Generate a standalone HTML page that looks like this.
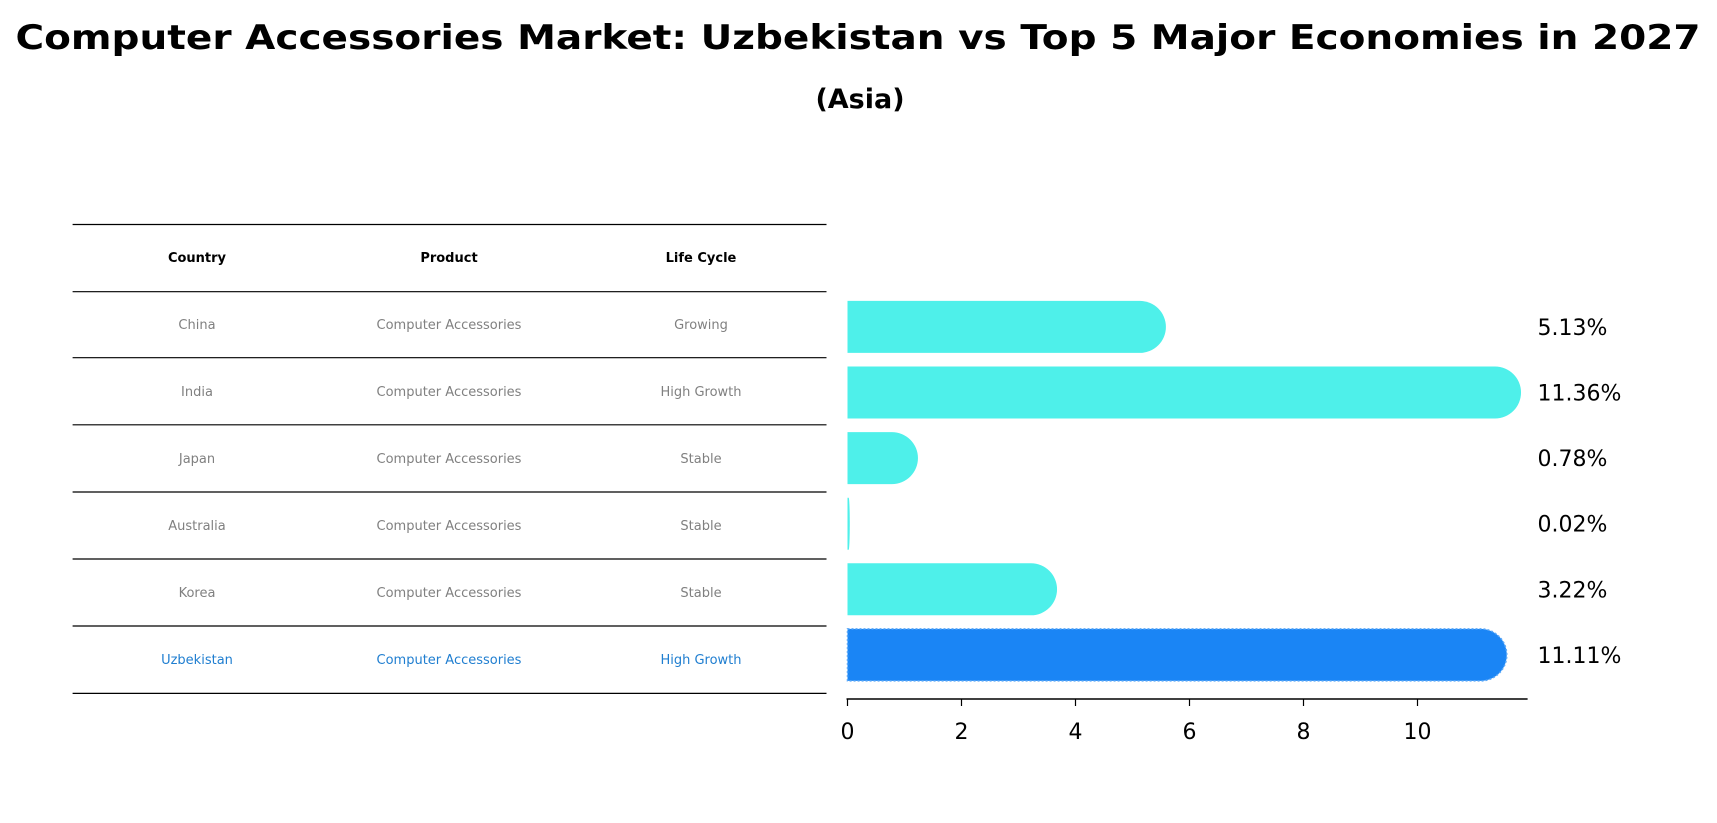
<!DOCTYPE html>
<html><head><meta charset="utf-8"><style>
body{margin:0;background:#fff;}
svg{display:block;font-family:"DejaVu Sans","Liberation Sans",sans-serif;}
</style></head><body>
<svg id="chart" width="1717" height="823" viewBox="0 0 1717 823">
<text x="858" y="49" text-anchor="middle" font-size="34" font-weight="bold" textLength="1685" lengthAdjust="spacingAndGlyphs">Computer Accessories Market: Uzbekistan vs Top 5 Major Economies in 2027</text>
<text x="860" y="108" text-anchor="middle" font-size="27" font-weight="bold">(Asia)</text>
<g id="table"></g>
<g id="bars"></g>
<g id="axis"></g>
<g id="labels"></g>
</svg>
<script>
const countries = ["China","India","Japan","Australia","Korea","Uzbekistan"];
const products = ["Computer Accessories","Computer Accessories","Computer Accessories","Computer Accessories","Computer Accessories","Computer Accessories"];
const lifeCycles = ["Growing","High Growth","Stable","Stable","Stable","High Growth"];
const values = [5.13,11.36,0.78,0.02,3.22,11.11];
const valueLabels = ["5.13%","11.36%","0.78%","0.02%","3.22%","11.11%"];
const ticks = [0,2,4,6,8,10];

const NS="http://www.w3.org/2000/svg";
function mk(tag,attrs,parent){const e=document.createElementNS(NS,tag);for(const k in attrs)e.setAttribute(k,attrs[k]);parent.appendChild(e);return e;}
const x0=847.5, ppu=57.0;
const xs=v=>x0+v*ppu;
const rowY=i=>326.9+i*65.6;
const barH=52;

// table
const tbl=document.getElementById('table');
const lines=[224.5,291.7,357.7,424.8,492,559,626,693.4];
lines.forEach((y,i)=>{const l=mk('line',{x1:72.6,x2:826.5,y1:y,y2:y,stroke:'#000','stroke-width':1.2},tbl);
});
const colX=[197,449,701];
["Country","Product","Life Cycle"].forEach((h,j)=>{const t=mk('text',{x:colX[j],y:262,'text-anchor':'middle','font-size':13,'font-weight':'bold'},tbl);t.textContent=h;
});
countries.forEach((c,i)=>{
 const cy=(lines[i+1]+lines[i+2])/2+4.5;
 const col=c==="Uzbekistan"?"#1f7ed0":"#808080";
 [c,products[i],lifeCycles[i]].forEach((v,j)=>{const t=mk('text',{x:colX[j],y:cy,'text-anchor':'middle','font-size':13,fill:col},tbl);t.textContent=v;
 });
});

// bars
const bars=document.getElementById('bars');
values.forEach((v,i)=>{
 const w=v*ppu, r=barH/2, c=Math.min(r,w), top=rowY(i)-r, bot=rowY(i)+r;
 const d=`M${x0},${top} H${x0+w} A${c},${r} 0 0 1 ${x0+w},${bot} H${x0} Z`;
 const uz=countries[i]==="Uzbekistan";
 const p=mk('path',{d:d,fill:uz?'#1a85f5':'#4ef0ea'},bars);
 if(uz){p.setAttribute('stroke','#5aa8f8');p.setAttribute('stroke-width','1.5');p.setAttribute('stroke-dasharray','2,2');}
 
 
 const t=mk('text',{x:1537.5,y:rowY(i)+8,'font-size':22},document.getElementById('labels'));
 t.textContent=valueLabels[i];
 
 
});

// axis
const ax=document.getElementById('axis');
const al=mk('line',{x1:x0-1,x2:1527.6,y1:699,y2:699,stroke:'#000','stroke-width':1.6},ax);

ticks.forEach(t=>{
 const tl=mk('line',{x1:xs(t),x2:xs(t),y1:699,y2:706,stroke:'#000','stroke-width':1.2},ax);
 
 const tx=mk('text',{x:xs(t),y:739,'text-anchor':'middle','font-size':22},ax);
 tx.textContent=t;
 
});
</script>
</body></html>
